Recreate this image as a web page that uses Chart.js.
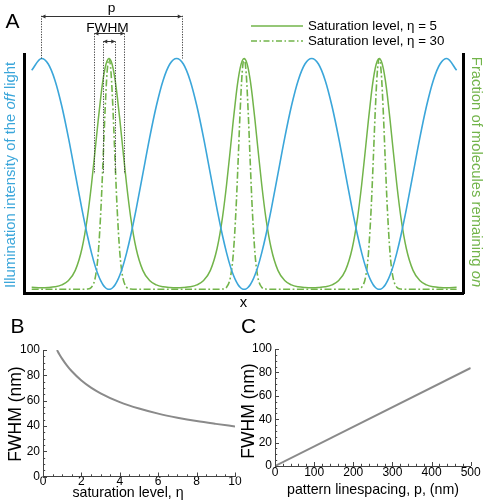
<!DOCTYPE html>
<html><head><meta charset="utf-8">
<script src="https://cdn.jsdelivr.net/npm/chart.js@4.4.1/dist/chart.umd.min.js"></script>
<style>
html,body{margin:0;padding:0;background:#fff;}
#wrap{position:relative;width:488px;height:502px;overflow:hidden;}
canvas{position:absolute;left:0;top:0;}
</style></head><body>
<div id="wrap">
<canvas id="cA" width="488" height="502"></canvas>
<canvas id="cB" width="488" height="502"></canvas>
<canvas id="cC" width="488" height="502"></canvas>
</div>
<script>
// ---------------- Panel A data (x in units of the pattern period p) ----------------
const aX = [-0.0725, 0,
 0.05,0.1,0.15,0.2,0.25,0.3,0.34,0.37,0.4,0.42,0.44,0.455,0.47,0.485,0.5,0.515,0.53,0.545,0.56,0.58,0.6,0.63,0.66,0.7,0.75,0.8,0.85,0.9,0.95,
 1,
 1.05,1.1,1.15,1.2,1.25,1.3,1.34,1.37,1.4,1.42,1.44,1.455,1.47,1.485,1.5,1.515,1.53,1.545,1.56,1.58,1.6,1.63,1.66,1.7,1.75,1.8,1.85,1.9,1.95,
 2,
 2.05,2.1,2.15,2.2,2.25,2.3,2.34,2.37,2.4,2.42,2.44,2.455,2.47,2.485,2.5,2.515,2.53,2.545,2.56,2.58,2.6,2.63,2.66,2.7,2.75,2.8,2.85,2.9,2.95,
 3, 3.0725];
// Illumination intensity of the off light
const aIllum = [0.949, 1,
 0.976,0.905,0.794,0.655,0.5,0.345,0.232,0.158,0.095,0.062,0.035,0.020,0.009,0.002,0,0.002,0.009,0.020,0.035,0.062,0.095,0.158,0.232,0.345,0.5,0.655,0.794,0.905,0.976,
 1,
 0.976,0.905,0.794,0.655,0.5,0.345,0.232,0.158,0.095,0.062,0.035,0.020,0.009,0.002,0,0.002,0.009,0.020,0.035,0.062,0.095,0.158,0.232,0.345,0.5,0.655,0.794,0.905,0.976,
 1,
 0.976,0.905,0.794,0.655,0.5,0.345,0.232,0.158,0.095,0.062,0.035,0.020,0.009,0.002,0,0.002,0.009,0.020,0.035,0.062,0.095,0.158,0.232,0.345,0.5,0.655,0.794,0.905,0.976,
 1, 0.949];
// Fraction remaining on, saturation level 5
const aEta5 = [0.009, 0.007,
 0.008,0.011,0.019,0.038,0.082,0.178,0.313,0.454,0.620,0.734,0.839,0.906,0.957,0.989,1,0.989,0.957,0.906,0.839,0.734,0.620,0.454,0.313,0.178,0.082,0.038,0.019,0.011,0.008,
 0.007,
 0.008,0.011,0.019,0.038,0.082,0.178,0.313,0.454,0.620,0.734,0.839,0.906,0.957,0.989,1,0.989,0.957,0.906,0.839,0.734,0.620,0.454,0.313,0.178,0.082,0.038,0.019,0.011,0.008,
 0.007,
 0.008,0.011,0.019,0.038,0.082,0.178,0.313,0.454,0.620,0.734,0.839,0.906,0.957,0.989,1,0.989,0.957,0.906,0.839,0.734,0.620,0.454,0.313,0.178,0.082,0.038,0.019,0.011,0.008,
 0.007, 0.009];
// Fraction remaining on, saturation level 30
const aEta30 = [0, 0,
 0,0,0,0,0,0,0.001,0.009,0.057,0.156,0.349,0.551,0.767,0.936,1,0.936,0.767,0.551,0.349,0.156,0.057,0.009,0.001,0,0,0,0,0,0,
 0,
 0,0,0,0,0,0,0.001,0.009,0.057,0.156,0.349,0.551,0.767,0.936,1,0.936,0.767,0.551,0.349,0.156,0.057,0.009,0.001,0,0,0,0,0,0,
 0,
 0,0,0,0,0,0,0.001,0.009,0.057,0.156,0.349,0.551,0.767,0.936,1,0.936,0.767,0.551,0.349,0.156,0.057,0.009,0.001,0,0,0,0,0,0,
 0, 0];
const aLegend = ['Saturation level, \u03b7 = 5', 'Saturation level, \u03b7 = 30'];
// annotation guides (data units)
const guideP = [0, 1.038];
const guideFwhm5 = [0.392, 0.614];
const guideFwhm30 = [0.457, 0.546];
const guideLevels = {p: 1.185, fwhm5: 1.109, fwhm30: 1.074, half: 0.5, peak: 1.0};

// ---------------- Panel B data ----------------
const bEta  = [0.73, 0.85, 1, 1.25, 1.5, 2, 2.5, 3, 4, 5, 6, 7, 8, 9, 10];
const bFwhm = [100, 96.7, 93.0, 87.7, 83.2, 75.9, 70.3, 65.8, 58.8, 53.7, 49.7, 46.5, 43.8, 41.6, 39.6];
const bXTicks = [0, 2, 4, 6, 8, 10];
const bYTicks = [0, 20, 40, 60, 80, 100];

// ---------------- Panel C data ----------------
const cP    = [0, 500];
const cFwhm = [0, 83.8];
const cXTicks = [0, 100, 200, 300, 400, 500];
const cYTicks = [0, 20, 40, 60, 80, 100];

// ---------------- styles ----------------
const FAM = '"Liberation Sans", Arial, Helvetica, sans-serif';
const BLUE = '#3ba6da', GREEN = '#72b44a', GRAY = '#8a8a8a', AXIS = '#444';
Chart.defaults.font.family = FAM;
Chart.defaults.color = '#000';

function pts(xs, ys){ return xs.map((x,i)=>({x:x, y:ys[i]})); }

function richText(ctx, parts, cx, cy, angle, size, color){
  ctx.save();
  ctx.translate(cx, cy); ctx.rotate(angle);
  ctx.fillStyle = color; ctx.textBaseline = 'middle'; ctx.textAlign = 'left';
  let total = 0;
  const w = parts.map(p=>{ ctx.font = (p.i?'italic ':'') + size + 'px ' + FAM; const m = ctx.measureText(p.t).width; total += m; return m; });
  let xx = -total/2;
  parts.forEach((p,k)=>{ ctx.font = (p.i?'italic ':'') + size + 'px ' + FAM; ctx.fillText(p.t, xx, 0); xx += w[k]; });
  ctx.restore();
}
function label(ctx, t, x, y, size, align, base, color){
  ctx.save(); ctx.font = size + 'px ' + FAM; ctx.fillStyle = color || '#000';
  ctx.textAlign = align || 'center'; ctx.textBaseline = base || 'middle'; ctx.fillText(t, x, y); ctx.restore();
}
function arrowHead(ctx, x, y, dir){
  ctx.beginPath(); ctx.moveTo(x, y); ctx.lineTo(x - dir*4, y - 2); ctx.lineTo(x - dir*4, y + 2); ctx.closePath(); ctx.fill();
}
function dblArrow(ctx, x1, x2, y){
  ctx.beginPath(); ctx.moveTo(x1, y); ctx.lineTo(x2, y); ctx.stroke();
  arrowHead(ctx, x1, y, -1); arrowHead(ctx, x2, y, 1);
}

const annotA = {
  id: 'annotA',
  afterDraw(chart){
    const ctx = chart.ctx, xs = chart.scales.x, ys = chart.scales.y;
    const X = v => xs.getPixelForValue(v), Y = v => ys.getPixelForValue(v);
    ctx.save();
    // dotted guides
    ctx.strokeStyle = '#333'; ctx.lineWidth = 0.9; ctx.setLineDash([1.3,1.3]);
    const vline = (xv, y1, y2) => { ctx.beginPath(); ctx.moveTo(Math.round(X(xv))+0.5, Y(y1)); ctx.lineTo(Math.round(X(xv))+0.5, Y(y2)); ctx.stroke(); };
    guideP.forEach(v => vline(v, guideLevels.p, guideLevels.peak));
    guideFwhm5.forEach(v => vline(v, guideLevels.fwhm5, guideLevels.half));
    guideFwhm30.forEach(v => vline(v, guideLevels.fwhm30, guideLevels.half));
    ctx.setLineDash([]);
    ctx.strokeStyle = '#333'; ctx.fillStyle = '#333'; ctx.lineWidth = 1;
    dblArrow(ctx, X(guideP[0]), X(guideP[1]), Math.round(Y(guideLevels.p))+0.5);
    dblArrow(ctx, X(guideFwhm5[0]), X(guideFwhm5[1]), Math.round(Y(guideLevels.fwhm5))+0.5);
    dblArrow(ctx, X(guideFwhm30[0]), X(guideFwhm30[1]), Math.round(Y(guideLevels.fwhm30))+0.5);
    label(ctx, 'p', (X(guideP[0])+X(guideP[1]))/2, Y(guideLevels.p) - 4, 13.7, 'center', 'alphabetic');
    label(ctx, 'FWHM', (X(guideFwhm5[0])+X(guideFwhm5[1]))/2 - 2, Y(guideLevels.fwhm5) - 1.5, 13.7, 'center', 'alphabetic');
    // legend
    ctx.strokeStyle = GREEN; ctx.lineWidth = 1.4;
    ctx.beginPath(); ctx.moveTo(251, 26); ctx.lineTo(303, 26); ctx.stroke();
    ctx.setLineDash([6,2.5,1.5,2.5]);
    ctx.beginPath(); ctx.moveTo(251, 41); ctx.lineTo(303, 41); ctx.stroke();
    ctx.setLineDash([]);
    label(ctx, aLegend[0], 308, 26, 13.3, 'left', 'middle');
    label(ctx, aLegend[1], 308, 41, 13.3, 'left', 'middle');
    // axis titles
    richText(ctx, [{t:'Illumination intensity of the '},{t:'off',i:true},{t:' light'}], 11, 175, -Math.PI/2, 14.8, BLUE);
    richText(ctx, [{t:'Fraction of molecules remaining '},{t:'on',i:true}], 476.5, 172, Math.PI/2, 14.8, GREEN);
    label(ctx, 'x', (chart.chartArea.left+chart.chartArea.right)/2, 303, 14.8, 'center', 'middle');
    // panel letters
    label(ctx, 'A', 12.5, 22.5, 21, 'center', 'middle');
    label(ctx, 'B', 17.5, 327.5, 21, 'center', 'middle');
    label(ctx, 'C', 248.5, 327.5, 21, 'center', 'middle');
    ctx.restore();
  }
};

new Chart(document.getElementById('cA'), {
  type: 'line',
  data: { datasets: [
    { data: pts(aX, aIllum), borderColor: BLUE, borderWidth: 1.6 },
    { data: pts(aX, aEta5), borderColor: GREEN, borderWidth: 1.5 },
    { data: pts(aX, aEta30), borderColor: GREEN, borderWidth: 1.6, borderDash: [7,2.5,1.8,2.5] }
  ]},
  options: {
    responsive: false, animation: false, devicePixelRatio: 1,
    layout: { padding: { top: 54, left: 0, right: 0, bottom: 502 - 310 } },
    plugins: { legend: { display: false }, tooltip: { enabled: false } },
    elements: { point: { radius: 0 }, line: { cubicInterpolationMode: 'monotone', fill: false } },
    scales: {
      x: { type: 'linear', min: -0.1295, max: 3.1199, ticks: { display: false }, grid: { display: false, drawTicks: false },
           border: { display: true, color: '#000', width: 3 }, afterFit(s){ s.height = 17; } },
      y: { type: 'linear', position: 'left', min: -0.016, max: 1.0195, ticks: { display: false }, grid: { display: false, drawTicks: false },
           border: { display: true, color: '#000', width: 3 }, afterFit(s){ s.width = 24; } },
      y2: { type: 'linear', position: 'right', min: -0.016, max: 1.0195, ticks: { display: false }, grid: { display: false, drawTicks: false },
           border: { display: true, color: '#000', width: 3 }, afterFit(s){ s.width = 25; } }
    }
  },
  plugins: [annotA]
});

const tickMarks = {
  id: 'tickMarks',
  afterDraw(chart, args, o){
    const ctx = chart.ctx, xs = chart.scales.x, ys = chart.scales.y, ca = chart.chartArea;
    ctx.save(); ctx.strokeStyle = AXIS; ctx.lineWidth = 1;
    const nx = Math.round((xs.max - xs.min)/o.xMinor);
    for (let i = 0; i <= nx; i++){
      const v = xs.min + i*o.xMinor; const px = Math.round(xs.getPixelForValue(v)) + 0.5;
      const major = Math.abs(v/o.xMajor - Math.round(v/o.xMajor)) < 1e-6;
      ctx.beginPath(); ctx.moveTo(px, ca.bottom); ctx.lineTo(px, ca.bottom - (major ? 4 : 2.2)); ctx.stroke();
    }
    const ny = Math.round((ys.max - ys.min)/o.yMinor);
    for (let i = 0; i <= ny; i++){
      const v = ys.min + i*o.yMinor; const py = Math.round(ys.getPixelForValue(v)) + 0.5;
      const major = Math.abs(v/o.yMajor - Math.round(v/o.yMajor)) < 1e-6;
      ctx.beginPath(); ctx.moveTo(ca.left, py); ctx.lineTo(ca.left + (major ? 4 : 2.2), py); ctx.stroke();
    }
    // axis titles
    label(ctx, o.xTitle, o.xTitleX, o.xTitleY, 14.2, 'center', 'middle');
    richText(ctx, [{t:'FWHM (nm)'}], o.yTitleX, o.yTitleY, -Math.PI/2, 17.5, '#000');
    ctx.restore();
  }
};

function smallChart(id, xs, ys, xTicks, yTicks, xTitle, geo, minor){
  minor.xTitle = xTitle;
  return new Chart(document.getElementById(id), {
    type: 'line',
    data: { datasets: [{ data: pts(xs, ys), borderColor: GRAY, borderWidth: 2, cubicInterpolationMode: 'monotone' }] },
    options: {
      responsive: false, animation: false, devicePixelRatio: 1,
      layout: { padding: { top: geo.top, left: geo.padLeft, right: geo.padRight, bottom: 0 } },
      plugins: { legend: { display: false }, tooltip: { enabled: false }, tickMarks: minor },
      elements: { point: { radius: 0 } },
      scales: {
        x: { type: 'linear', min: xTicks[0], max: xTicks[xTicks.length-1],
             afterBuildTicks(s){ s.ticks = xTicks.map(v => ({value: v})); },
             ticks: { font: { size: 12, lineHeight: 1 }, color: '#000', padding: geo.xTickPad, maxRotation: 0, autoSkip: false },
             grid: { display: false, drawTicks: false }, border: { display: true, color: AXIS, width: 1 },
             afterFit(s){ s.height = geo.xHeight; } },
        y: { type: 'linear', min: yTicks[0], max: yTicks[yTicks.length-1],
             afterBuildTicks(s){ s.ticks = yTicks.map(v => ({value: v})); },
             ticks: { font: { size: 12 }, color: '#000', padding: 3 },
             grid: { display: false, drawTicks: false }, border: { display: true, color: AXIS, width: 1 },
             afterFit(s){ s.width = geo.yWidth; } }
      }
    },
    plugins: [tickMarks]
  });
}

smallChart('cB', bEta, bFwhm, bXTicks, bYTicks, 'saturation level, \u03b7',
  { top: 350, padLeft: 0, padRight: 253, xHeight: 25.5, yWidth: 43, xTickPad: -0.5 },
  { xMajor: 2, xMinor: 0.5, yMajor: 20, yMinor: 5, xTitleX: 128, xTitleY: 493, yTitleX: 16, yTitleY: 414 });
smallChart('cC', cP, cFwhm, cXTicks, cYTicks, 'pattern linespacing, p, (nm)',
  { top: 349, padLeft: 236, padRight: 17.3, xHeight: 36, yWidth: 39, xTickPad: 1 },
  { xMajor: 100, xMinor: 20, yMajor: 20, yMinor: 5, xTitleX: 373, xTitleY: 490, yTitleX: 249.5, yTitleY: 411 });
</script>
</body></html>
